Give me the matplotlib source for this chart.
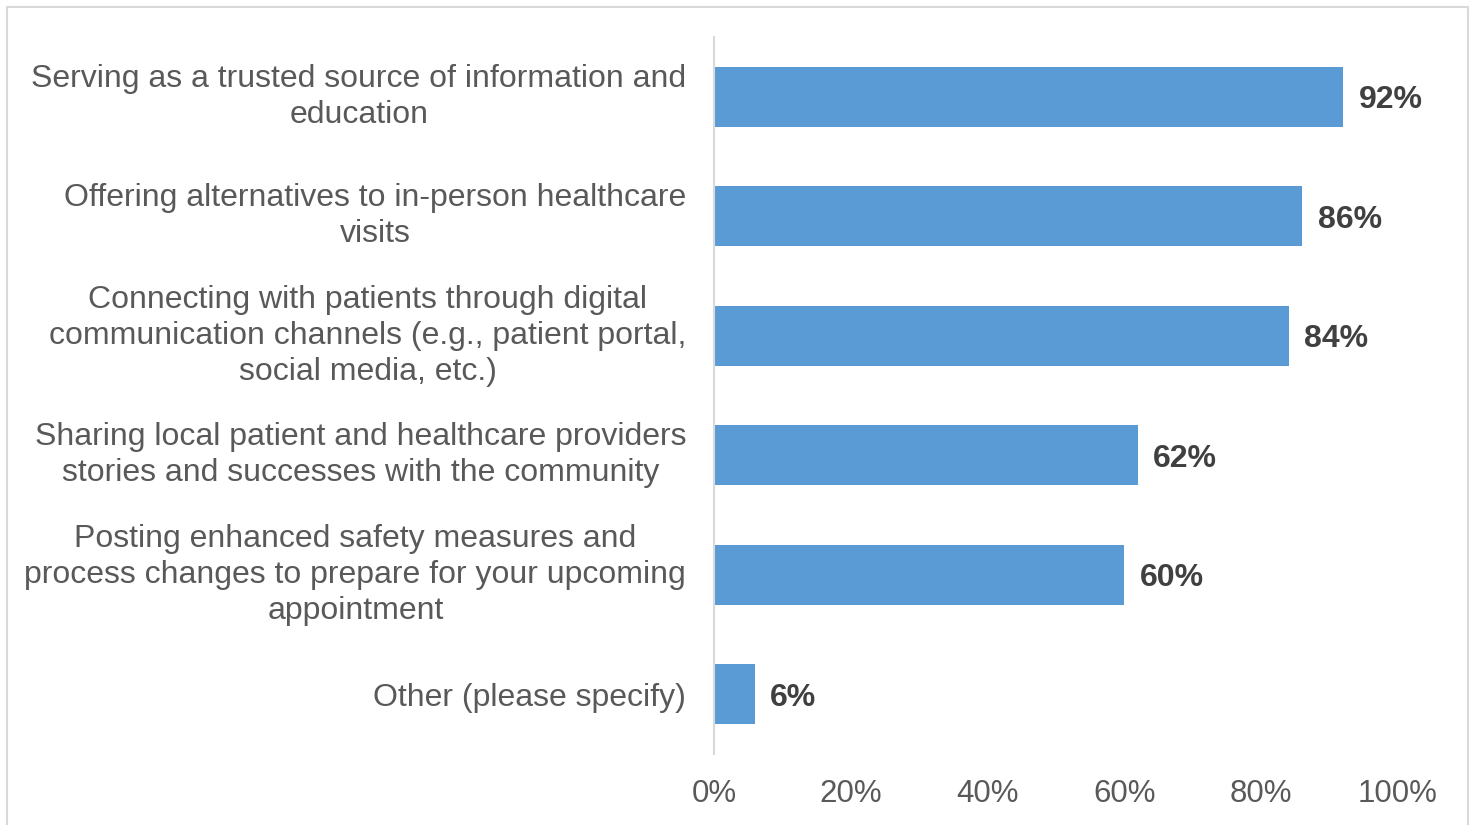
import matplotlib.pyplot as plt
from matplotlib.patches import Rectangle

# survey answers, top to bottom
categories = [
    "Serving as a trusted source of information and\neducation",
    "Offering alternatives to in-person healthcare\nvisits",
    "Connecting with patients through digital\ncommunication channels (e.g., patient portal,\nsocial media, etc.)",
    "Sharing local patient and healthcare providers\nstories and successes with the community",
    "Posting enhanced safety measures and\nprocess changes to prepare for your upcoming\nappointment",
    "Other (please specify)",
]
percent = [92, 86, 84, 62, 60, 6]
xticks = [0, 20, 40, 60, 80, 100]

plt.rcParams['font.family'] = ['Liberation Sans', 'DejaVu Sans']

fig = plt.figure(figsize=(14.73, 8.25), dpi=100)
ax = fig.add_axes([714 / 1473, 1 - 754 / 825, 684 / 1473, 717 / 825])

ypos = list(range(len(categories)))[::-1]
ax.barh(ypos, percent, height=0.5, color='#5B9BD5')

for y, v in zip(ypos, percent):
    ax.annotate(f"{v}%", (v, y), xytext=(11, 0), textcoords='offset points',
                ha='left', va='center_baseline', fontsize=23, fontweight='bold',
                color='#404040')

ax.set_xlim(0, 100)
ax.set_ylim(-0.5, len(categories) - 0.5)
ax.set_xticks(xticks)
ax.set_xticklabels([f"{t}%" for t in xticks])
ax.set_yticks(ypos)
ax.set_yticklabels(categories, multialignment='center', linespacing=1.26)
# multi-line labels sit a touch low with center_baseline
for lbl in ax.get_yticklabels():
    if '\n' in lbl.get_text():
        lbl.set_va('center')

ax.tick_params(axis='y', length=0, pad=20, labelsize=23, labelcolor='#595959')
ax.tick_params(axis='x', length=0, pad=18, labelsize=22.5, labelcolor='#595959')

for side in ['top', 'right', 'bottom']:
    ax.spines[side].set_visible(False)
ax.spines['left'].set_color('#D9D9D9')
ax.spines['left'].set_linewidth(1.5)

# light frame round the chart area
fig.patches.append(Rectangle((7 / 1473, -0.05), 1461 / 1473, 1.05 - 7 / 825,
                             transform=fig.transFigure, fill=False,
                             edgecolor='#D9D9D9', linewidth=1.5))

fig.savefig('out.png', dpi=100)
